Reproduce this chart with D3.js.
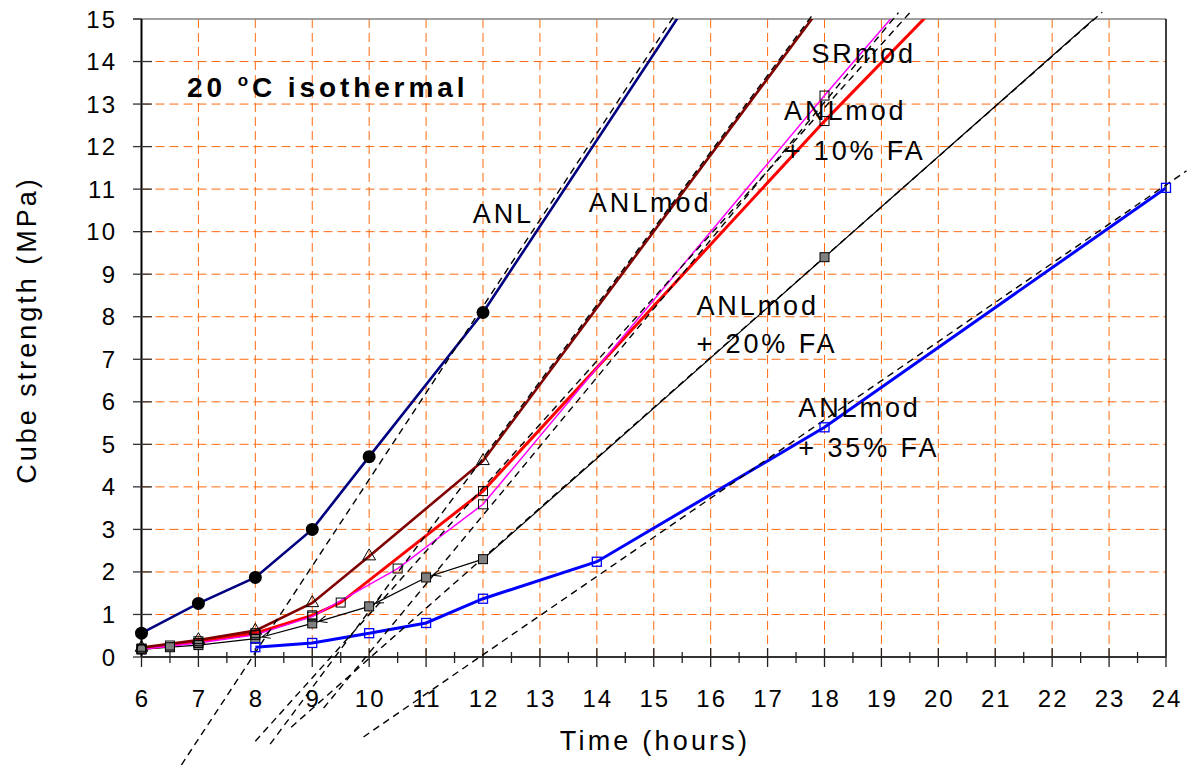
<!DOCTYPE html>
<html><head><meta charset="utf-8">
<script src="https://cdn.jsdelivr.net/npm/d3@7"></script>
<style>
html,body{margin:0;padding:0;background:#fff;}
svg{display:block;font-family:"Liberation Sans",Arial,sans-serif;}
</style></head>
<body>
<svg id="chart" width="1199" height="765"></svg>
<script>
// Cube strength (MPa) against age (hours), 20 °C isothermal curing
const anlHours = [6, 7, 8, 9, 10, 12, 16];
const anlStrength = [0.56, 1.26, 1.87, 3.0, 4.71, 8.1, 16.2];

const anlmodHours = [6, 7, 8, 9, 10, 12, 18];
const anlmodStrength = [0.22, 0.4, 0.62, 1.27, 2.37, 4.61, 15.4];

const fa10Hours = [6, 6.5, 7, 8, 9, 9.5, 12, 18, 20];
const fa10Strength = [0.2, 0.27, 0.37, 0.56, 0.98, 1.28, 3.9, 12.6, 15.35];

const srmodHours = [6, 7, 8, 9, 10.5, 12, 18, 20];
const srmodStrength = [0.18, 0.33, 0.52, 0.95, 2.08, 3.59, 13.2, 16.3];

const fa20Hours = [6, 6.5, 7, 8, 9, 10, 11, 12, 18, 24];
const fa20Strength = [0.18, 0.23, 0.28, 0.43, 0.79, 1.19, 1.87, 2.3, 9.4, 16.5];

const fa35Hours = [8, 9, 10, 11, 12, 14, 18, 24];
const fa35Strength = [0.23, 0.33, 0.56, 0.8, 1.37, 2.24, 5.4, 11.03];

// straight-line fits: [startHour, startMPa, endHour, endMPa]
const fitANL = [6.70, -2.54, 15.39, 15.14];
const fitANLmod = [8.26, -2.05, 17.82, 15.15];
const fitFA10 = [8.0, -1.98, 19.5, 15.15];
const fitSRmod = [9.2, -1.2, 19.3, 15.15];
const fitFA20 = [8.63, -1.65, 22.88, 15.16];
const fitFA35 = [9.9, -1.88, 24.36, 11.43];

const xTickValues = [6, 7, 8, 9, 10, 11, 12, 13, 14, 15, 16, 17, 18, 19, 20, 21, 22, 23, 24];
const yTickValues = [0, 1, 2, 3, 4, 5, 6, 7, 8, 9, 10, 11, 12, 13, 14, 15];

const svg = d3.select("#chart");
const plotL = 141.5, plotR = 1166, plotT = 19, plotB = 657;
const x = d3.scaleLinear().domain([6, 24]).range([plotL, plotR]);
const y = d3.scaleLinear().domain([0, 15]).range([plotB, plotT]);

const pts = (hs, vs) => hs.map((h, i) => [h, vs[i]]);

const defs = svg.append("defs");
defs.append("clipPath").attr("id", "plot")
  .append("rect").attr("x", plotL).attr("y", plotT)
  .attr("width", plotR - plotL).attr("height", plotB - plotT);

defs.append("marker")
  .attr("id", "arrow").attr("viewBox", "0 0 8 8")
  .attr("refX", 8).attr("refY", 4)
  .attr("markerWidth", 8).attr("markerHeight", 8)
  .attr("markerUnits", "userSpaceOnUse")
  .attr("orient", "auto")
  .append("path").attr("d", "M0,0.5 L8,4 L0,7.5")
  .attr("fill", "none").attr("stroke", "#000").attr("stroke-width", 1);

// grid
const grid = svg.append("g");
grid.selectAll("line.gx").data(xTickValues.slice(1, -1)).join("line")
  .attr("x1", d => x(d)).attr("x2", d => x(d))
  .attr("y1", plotT).attr("y2", plotB)
  .attr("stroke", "#FF6A10").attr("stroke-width", 1).attr("stroke-dasharray", "9,5");
grid.selectAll("line.gy").data(yTickValues.slice(1, -1)).join("line")
  .attr("x1", plotL).attr("x2", plotR)
  .attr("y1", d => y(d)).attr("y2", d => y(d))
  .attr("stroke", "#FF6A10").attr("stroke-width", 1).attr("stroke-dasharray", "9,5");

// frame
svg.append("line").attr("x1", 133).attr("x2", plotR).attr("y1", plotT).attr("y2", plotT)
  .attr("stroke", "#808080").attr("stroke-width", 1.5);
svg.append("line").attr("x1", plotR).attr("x2", plotR).attr("y1", plotT).attr("y2", plotB)
  .attr("stroke", "#000").attr("stroke-width", 1.5);

// axes
const xAxis = svg.append("g").attr("transform", `translate(0,${plotB})`);
xAxis.append("line").attr("x1", plotL).attr("x2", plotR).attr("stroke", "#333").attr("stroke-width", 2);
xAxis.selectAll("line.maj").data(xTickValues).join("line")
  .attr("x1", d => x(d)).attr("x2", d => x(d))
  .attr("y1", d => d === 24 ? 0 : -9).attr("y2", 10)
  .attr("stroke", "#222").attr("stroke-width", 1.3);
xAxis.selectAll("line.min").data(xTickValues.slice(0, -1).map(d => d + 0.5)).join("line")
  .attr("x1", d => x(d)).attr("x2", d => x(d))
  .attr("y1", -5).attr("y2", 6)
  .attr("stroke", "#222").attr("stroke-width", 1.3);
xAxis.selectAll("text").data(xTickValues).join("text")
  .attr("x", d => x(d) + 1).attr("y", 50)
  .attr("text-anchor", "middle")
  .style("font-size", "24px").style("letter-spacing", "2px")
  .text(d => d);

const yAxis = svg.append("g");
yAxis.append("line").attr("x1", plotL).attr("x2", plotL).attr("y1", plotT).attr("y2", plotB)
  .attr("stroke", "#000").attr("stroke-width", 2);
yAxis.selectAll("line.t").data(yTickValues).join("line")
  .attr("x1", 133).attr("x2", d => d === 15 ? plotL : 152)
  .attr("y1", d => y(d)).attr("y2", d => y(d))
  .attr("stroke", "#333").attr("stroke-width", 1.3);
yAxis.selectAll("text").data(yTickValues).join("text")
  .attr("x", 117).attr("y", d => y(d) + 8.5)
  .attr("text-anchor", "end")
  .style("font-size", "24px").style("letter-spacing", "2px")
  .text(d => d);

// axis titles
svg.append("text").attr("x", 655).attr("y", 750).attr("text-anchor", "middle")
  .style("font-size", "27px").style("letter-spacing", "3.2px").text("Time (hours)");
svg.append("text").attr("transform", "translate(36,330) rotate(-90)").attr("text-anchor", "middle")
  .style("font-size", "27px").style("letter-spacing", "3px").text("Cube strength (MPa)");

// series lines
const plot = svg.append("g").attr("clip-path", "url(#plot)");
const line = d3.line().x(d => x(d[0])).y(d => y(d[1]));

const fa20 = pts(fa20Hours, fa20Strength);
plot.append("path").attr("d", line(fa20)).attr("fill", "none")
  .attr("stroke", "#000").attr("stroke-width", 1.2);
// arrowheads on the early segments of the 20 % FA line
const arrowSegs = d3.pairs(fa20).filter(([a]) => a[0] >= 8 && a[0] < 12);
plot.selectAll("path.arr").data(arrowSegs).join("path")
  .attr("d", ([a, b]) => {
    const ax = x(a[0]), ay = y(a[1]), bx = x(b[0]), by = y(b[1]);
    const len = Math.hypot(bx - ax, by - ay), k = 7 / len;
    return `M${bx},${by}L${ax + (bx - ax) * k},${ay + (by - ay) * k}`;
  })
  .attr("fill", "none").attr("stroke", "none").attr("marker-end", "url(#arrow)");

const fa35 = pts(fa35Hours, fa35Strength);
plot.append("path").attr("d", line(fa35)).attr("fill", "none")
  .attr("stroke", "#0000FF").attr("stroke-width", 3);

const fa10 = pts(fa10Hours, fa10Strength);
plot.append("path").attr("d", line(fa10)).attr("fill", "none")
  .attr("stroke", "#FF0000").attr("stroke-width", 3);

const srmod = pts(srmodHours, srmodStrength);
plot.append("path").attr("d", line(srmod)).attr("fill", "none")
  .attr("stroke", "#FF00FF").attr("stroke-width", 1.5);

const anlmod = pts(anlmodHours, anlmodStrength);
plot.append("path").attr("d", line(anlmod)).attr("fill", "none")
  .attr("stroke", "#800000").attr("stroke-width", 2.6);

const anl = pts(anlHours, anlStrength);
plot.append("path").attr("d", line(anl)).attr("fill", "none")
  .attr("stroke", "#000080").attr("stroke-width", 2.6);

// fitted straight lines (dashed), drawn across the axis region
const fits = [fitANL, fitANLmod, fitFA10, fitSRmod, fitFA20, fitFA35];
svg.append("g").selectAll("line").data(fits).join("line")
  .attr("x1", d => x(d[0])).attr("y1", d => y(d[1]))
  .attr("x2", d => x(d[2])).attr("y2", d => y(d[3]))
  .attr("stroke", "#000").attr("stroke-width", 1.4).attr("stroke-dasharray", "7,5");

// markers
const inside = p => p[1] <= 15;
const mk = svg.append("g");
function squares(data, size, fill, stroke, sw) {
  mk.append("g").selectAll("rect").data(data.filter(inside)).join("rect")
    .attr("x", d => x(d[0]) - size / 2).attr("y", d => y(d[1]) - size / 2)
    .attr("width", size).attr("height", size)
    .attr("fill", fill).attr("stroke", stroke).attr("stroke-width", sw);
}
squares(fa20, 9, "#808080", "#000", 1);
squares(fa35, 9, "none", "#0000FF", 1.3);
squares(srmod, 9, "none", "#000", 1);
squares(fa10, 9, "none", "#000", 1);
mk.append("g").selectAll("path").data(anlmod.filter(inside)).join("path")
  .attr("transform", d => `translate(${x(d[0])},${y(d[1])})`)
  .attr("d", d3.symbol(d3.symbolTriangle, 70))
  .attr("fill", "none").attr("stroke", "#000").attr("stroke-width", 1);
mk.append("g").selectAll("circle").data(anl.filter(inside)).join("circle")
  .attr("cx", d => x(d[0])).attr("cy", d => y(d[1])).attr("r", 6.5)
  .attr("fill", "#000");

// curve labels
const labels = [
  {t: "ANL", h: 11.82, v: 10.21},
  {t: "ANLmod", h: 13.86, v: 10.47},
  {t: "SRmod", h: 17.77, v: 13.96},
  {t: "ANLmod", h: 17.29, v: 12.63},
  {t: "+ 10% FA", h: 17.3, v: 11.69},
  {t: "ANLmod", h: 15.75, v: 8.04},
  {t: "+ 20% FA", h: 15.75, v: 7.15},
  {t: "ANLmod", h: 17.54, v: 5.64},
  {t: "+ 35% FA", h: 17.54, v: 4.71}
];
svg.append("g").selectAll("text").data(labels).join("text")
  .attr("x", d => x(d.h)).attr("y", d => y(d.v))
  .style("font-size", "27px").style("letter-spacing", "2.9px")
  .text(d => d.t);

// title
const title = svg.append("text").attr("x", x(6.8)).attr("y", y(13.17))
  .style("font-size", "28px").style("font-weight", "bold").style("letter-spacing", "3.9px");
title.append("tspan").text("20 ");
title.append("tspan").attr("dy", -11).style("font-size", "17px").text("o");
title.append("tspan").attr("dy", 11).text("C isothermal");
</script>
</body></html>
